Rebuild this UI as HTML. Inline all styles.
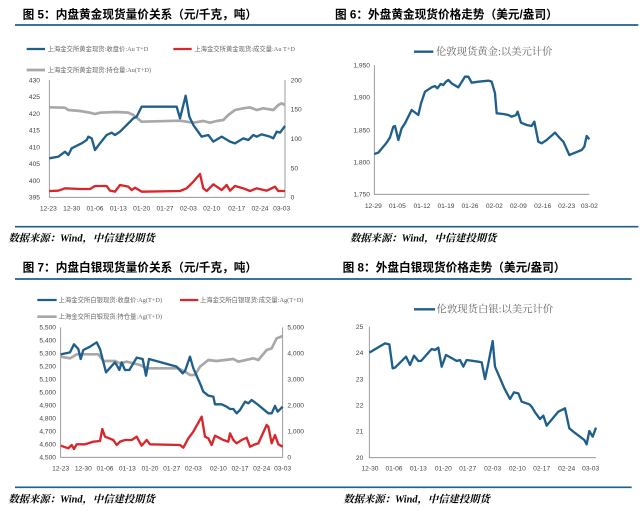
<!DOCTYPE html>
<html><head><meta charset="utf-8"><style>
html,body{margin:0;padding:0;background:#fff;width:640px;height:515px;overflow:hidden}
svg{display:block}
.t{font-family:"Liberation Sans","Noto Sans CJK SC",sans-serif;font-weight:bold;font-size:35px;fill:#000}
.s{font-family:"Liberation Serif","Noto Serif CJK SC",serif;font-weight:bold;font-style:italic;font-size:31px;fill:#000}
.k{font-family:"Liberation Sans",sans-serif;font-size:20px;fill:#444}
.lg{font-family:"Liberation Serif","Noto Sans CJK SC",sans-serif;font-size:19px;fill:#666}
.lg2{font-family:"Liberation Serif","Noto Serif CJK SC",serif;font-size:31px;fill:#666}
.ax{stroke:#888;stroke-width:2.5;fill:none}
.b{stroke:#1f5f8b;stroke-width:7;fill:none;stroke-linejoin:round}
.r{stroke:#d9262b;stroke-width:7;fill:none;stroke-linejoin:round}
.g{stroke:#a8a8a8;stroke-width:8;fill:none;stroke-linejoin:round}
.rule{stroke:#1f5f8b;stroke-width:5}
</style></head><body>
<svg width="640" height="515" viewBox="0 0 640 515" xmlns="http://www.w3.org/2000/svg">
<!-- Panel 1 -->
<g transform="translate(0,0) scale(0.33333)">
<text class="t" x="68" y="55">图 5：内盘黄金现货量价关系（元/千克，吨）</text>
<line class="rule" x1="45" y1="75" x2="960" y2="75"/>
<line class="b" x1="80" y1="147" x2="135" y2="147"/><text class="lg" x="143" y="153">上海金交所黄金现货:收盘价:Au T+D</text>
<line class="r" x1="520" y1="147" x2="575" y2="147"/><text class="lg" x="583" y="153">上海金交所黄金现货:成交量:Au T+D</text>
<line class="g" x1="80" y1="210" x2="135" y2="210"/><text class="lg" x="143" y="216">上海金交所黄金现货:持仓量:Au(T+D)</text>
<path class="ax" d="M148 240V592H855V240"/>
<g class="k" text-anchor="end">
<text x="120" y="247">430</text><text x="120" y="297">425</text><text x="120" y="348">420</text><text x="120" y="398">415</text><text x="120" y="448">410</text><text x="120" y="498">405</text><text x="120" y="549">400</text><text x="120" y="599">395</text>
</g>
<g class="k">
<text x="872" y="247">200</text><text x="872" y="335">150</text><text x="872" y="423">100</text><text x="872" y="511">50</text><text x="872" y="599">0</text>
</g>
<g class="k" text-anchor="middle">
<text x="145" y="632">12-23</text><text x="215" y="632">12-30</text><text x="285" y="632">01-06</text><text x="355" y="632">01-13</text><text x="425" y="632">01-20</text><text x="495" y="632">01-27</text><text x="565" y="632">02-03</text><text x="635" y="632">02-10</text><text x="710" y="632">02-17</text><text x="780" y="632">02-24</text><text x="845" y="632">03-03</text>
</g>
<polyline class="g" points="148,322 195,323 205,330 240,333 270,338 285,342 300,338 350,336 385,338 400,345 425,365 540,362 560,365 580,368 610,363 630,368 650,363 670,360 685,345 705,330 730,325 750,322 770,330 790,325 820,330 835,315 845,310 855,315"/>
<polyline class="r" points="148,573 175,572 195,565 240,567 270,567 285,558 320,558 330,572 345,575 360,555 385,560 395,570 405,563 425,575 540,573 560,565 580,545 600,522 610,565 620,573 640,553 665,570 680,555 690,572 705,558 730,565 750,573 770,565 800,572 825,560 835,573 855,573"/>
<polyline class="b" points="148,475 175,470 195,455 205,465 215,445 245,430 260,420 265,410 275,415 285,450 300,430 320,405 335,398 345,405 360,395 375,380 400,355 410,350 425,320 530,320 540,355 557,287 568,350 580,375 605,410 625,405 640,425 665,410 690,425 705,430 730,415 745,420 760,405 770,410 785,403 810,410 820,415 830,395 840,398 855,378"/>
<line class="rule" x1="45" y1="680" x2="960" y2="680"/>
<text class="s" x="25" y="725">数据来源：Wind，中信建投期货</text>
</g>
<!-- Panel 2 -->
<g transform="translate(320,0) scale(0.33333)">
<text class="t" x="45" y="55">图 6：外盘黄金现货价格走势（美元/盎司）</text>
<line class="rule" x1="0" y1="75" x2="955" y2="75"/>
<line class="b" x1="282" y1="155" x2="340" y2="155"/><text class="lg2" x="348" y="165">伦敦现货黄金:以美元计价</text>
<path class="ax" d="M163 195V583H808"/>
<g class="k" text-anchor="end">
<text x="150" y="202">1,950</text><text x="150" y="299">1,900</text><text x="150" y="397">1,850</text><text x="150" y="494">1,800</text><text x="150" y="590">1,750</text>
</g>
<g class="k" text-anchor="middle">
<text x="160" y="624">12-29</text><text x="232" y="624">01-05</text><text x="306" y="624">01-12</text><text x="378" y="624">01-19</text><text x="450" y="624">01-26</text><text x="523" y="624">02-02</text><text x="595" y="624">02-09</text><text x="668" y="624">02-16</text><text x="740" y="624">02-23</text><text x="808" y="624">03-02</text>
</g>
<polyline class="b" points="163,462 175,458 200,428 210,412 220,380 225,378 235,420 245,385 255,370 275,330 295,345 303,310 315,275 335,262 345,258 352,265 362,252 370,255 378,245 385,240 395,250 415,262 435,230 445,230 455,248 475,245 505,242 515,245 525,280 530,340 550,342 565,345 575,350 588,345 593,335 603,368 620,375 635,378 643,365 655,425 665,430 680,420 705,398 720,415 730,425 748,465 765,458 785,450 793,440 800,408 808,418"/>
<line class="rule" x1="0" y1="680" x2="955" y2="680"/>
<text class="s" x="90" y="725">数据来源：Wind，中信建投期货</text>
</g>
<!-- Panel 3 -->
<g transform="translate(0,255) scale(0.33333)">
<text class="t" x="68" y="50">图 7：内盘白银现货量价关系（元/千克，吨）</text>
<line class="rule" x1="45" y1="72" x2="960" y2="72"/>
<line class="b" x1="112" y1="135" x2="170" y2="135"/><text class="lg" x="176" y="141">上海金交所白银现货:收盘价:Ag(T+D)</text>
<line class="r" x1="540" y1="135" x2="595" y2="135"/><text class="lg" x="600" y="141">上海金交所白银现货:成交量:Ag(T+D)</text>
<line class="g" x1="112" y1="185" x2="170" y2="185"/><text class="lg" x="176" y="191">上海金交所白银现货:持仓量:Ag(T+D)</text>
<path class="ax" d="M182 217V607H848V217"/>
<g class="k" text-anchor="end">
<text x="168" y="224">5,500</text><text x="168" y="263">5,400</text><text x="168" y="302">5,300</text><text x="168" y="341">5,200</text><text x="168" y="380">5,100</text><text x="168" y="419">5,000</text><text x="168" y="458">4,900</text><text x="168" y="497">4,800</text><text x="168" y="536">4,700</text><text x="168" y="575">4,600</text><text x="168" y="614">4,500</text>
</g>
<g class="k">
<text x="862" y="224">5,000</text><text x="862" y="302">4,000</text><text x="862" y="380">3,000</text><text x="862" y="458">2,000</text><text x="862" y="536">1,000</text><text x="862" y="614">0</text>
</g>
<g class="k" text-anchor="middle">
<text x="182" y="647">12-23</text><text x="250" y="647">12-30</text><text x="315" y="647">01-06</text><text x="382" y="647">01-13</text><text x="450" y="647">01-20</text><text x="515" y="647">01-27</text><text x="580" y="647">02-03</text><text x="655" y="647">02-10</text><text x="720" y="647">02-17</text><text x="785" y="647">02-24</text><text x="848" y="647">03-03</text>
</g>
<polyline class="g" points="182,305 210,310 230,298 295,298 310,318 345,318 360,325 380,320 420,330 440,340 535,340 555,350 570,360 585,360 600,335 625,315 650,318 700,312 715,320 760,310 775,315 800,285 815,280 830,250 848,243"/>
<polyline class="r" points="182,572 205,580 215,570 222,582 230,568 255,568 280,560 300,558 307,522 315,545 340,555 350,570 360,560 375,555 395,555 410,545 425,572 440,555 450,568 540,570 550,578 565,550 580,530 605,485 615,545 625,550 635,570 645,542 670,555 685,560 690,535 700,555 710,565 725,555 740,548 750,575 765,568 775,565 800,510 805,515 815,565 825,540 835,568 848,575"/>
<polyline class="b" points="182,298 210,292 222,268 235,282 242,312 250,285 270,275 290,262 300,282 318,352 345,322 350,330 358,345 365,322 375,345 388,345 410,308 428,312 438,362 447,312 530,335 548,355 555,348 570,305 580,340 600,385 610,410 625,422 640,425 645,448 665,448 680,455 690,462 700,462 710,475 720,465 735,440 745,445 755,435 775,450 805,475 815,475 825,453 833,470 848,455"/>
<line class="rule" x1="45" y1="697" x2="960" y2="697"/>
<text class="s" x="25" y="742">数据来源：Wind，中信建投期货</text>
</g>
<!-- Panel 4 -->
<g transform="translate(320,255) scale(0.33333)">
<text class="t" x="68" y="50">图 8：外盘白银现货价格走势（美元/盎司）</text>
<line class="rule" x1="0" y1="72" x2="935" y2="72"/>
<line class="b" x1="282" y1="163" x2="345" y2="163"/><text class="lg2" x="350" y="173">伦敦现货白银:以美元计价</text>
<path class="ax" d="M148 215V608H828"/>
<g class="k" text-anchor="end">
<text x="130" y="222">25</text><text x="130" y="300">24</text><text x="130" y="379">23</text><text x="130" y="458">22</text><text x="130" y="536">21</text><text x="130" y="615">20</text>
</g>
<g class="k" text-anchor="middle">
<text x="150" y="647">12-30</text><text x="222" y="647">01-06</text><text x="295" y="647">01-13</text><text x="370" y="647">01-20</text><text x="443" y="647">01-27</text><text x="518" y="647">02-03</text><text x="592" y="647">02-10</text><text x="665" y="647">02-17</text><text x="740" y="647">02-24</text><text x="812" y="647">03-03</text>
</g>
<polyline class="b" points="148,293 195,265 208,268 218,340 225,338 258,305 270,330 282,302 295,318 303,318 335,282 345,285 355,278 365,335 378,300 400,312 410,318 420,315 430,335 440,315 475,320 485,322 495,372 505,325 518,258 525,335 538,365 553,400 570,432 582,412 595,415 605,440 628,448 635,455 645,472 660,492 670,482 680,512 715,470 735,460 748,520 760,530 780,545 793,555 800,568 808,528 818,545 828,518"/>
<line class="rule" x1="0" y1="697" x2="935" y2="697"/>
<text class="s" x="70" y="742">数据来源：Wind，中信建投期货</text>
</g>
</svg>
</body></html>
